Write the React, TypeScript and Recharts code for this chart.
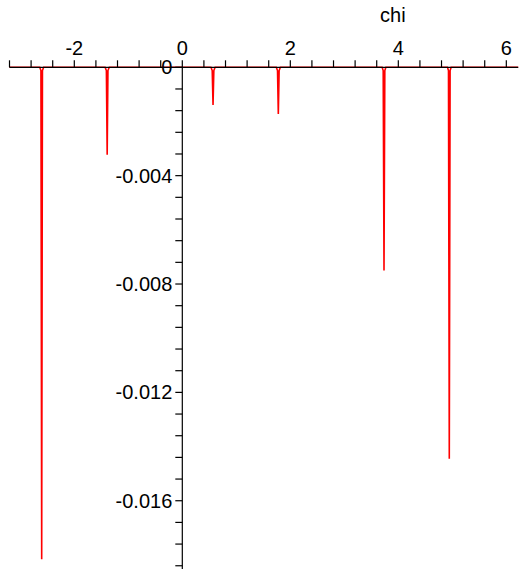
import React from 'react';
import { ComposedChart, Line, Scatter, XAxis, YAxis, ReferenceLine } from 'recharts';

// curve samples (chi, value)
const chiValues = [
  -3.2, -2.64, -2.618, -2.604, -2.59, -2.568,
  -1.43, -1.406, -1.391, -1.377, -1.352,
  0.53, 0.554, 0.569, 0.584, 0.608,
  1.74, 1.763, 1.778, 1.793, 1.816,
  3.7, 3.72, 3.735, 3.75, 3.77,
  4.91, 4.929, 4.944, 4.959, 4.978, 6.22,
];
const fValues = [
  0, 0, -0.00012, -0.01816, -0.00012, 0,
  0, -0.00012, -0.00323, -0.00012, 0,
  0, -0.00012, -0.00139, -0.00012, 0,
  0, -0.00012, -0.00172, -0.00012, 0,
  0, -0.00012, -0.0075, -0.00012, 0,
  0, -0.00012, -0.01445, -0.00012, 0, 0,
];

const xTicks = [
  -3.2, -2.8, -2.4, -2, -1.6, -1.2, -0.8, -0.4, 0, 0.4, 0.8, 1.2,
  1.6, 2, 2.4, 2.8, 3.2, 3.6, 4, 4.4, 4.8, 5.2, 5.6, 6,
];
const xLabels = [-2, 0, 2, 4, 6];

const yTicks = [
  0, -0.0008, -0.0016, -0.0024, -0.0032, -0.004, -0.0048, -0.0056, -0.0064,
  -0.0072, -0.008, -0.0088, -0.0096, -0.0104, -0.0112, -0.012, -0.0128,
  -0.0136, -0.0144, -0.0152, -0.016, -0.0168, -0.0176, -0.0184,
];
const yLabels = ['0', '-0.004', '-0.008', '-0.012', '-0.016'];

const curve = chiValues.map((x, i) => ({ x, y: fValues[i] }));
const yAxisMarks = yTicks.map((v) => {
  const lbl = yLabels.find((s) => Math.abs(parseFloat(s) - v) < 1e-9);
  return { x: 0, y: v, label: lbl ?? '' };
});

const FONT = '"Liberation Sans", Arial, sans-serif';
const FS = 20;

const fmtX = (v: number) => {
  const hit = xLabels.find((l) => Math.abs(l - v) < 1e-9);
  return hit === undefined ? '' : String(hit);
};

const YTick = (props: any) => {
  const { cx, cy, payload } = props;
  return (
    <g>
      <line x1={cx - 7} x2={cx} y1={cy} y2={cy} stroke="#000" strokeWidth={1.2} />
      {payload.label && (
        <text
          x={cx - 10}
          y={cy}
          textAnchor="end"
          dominantBaseline="central"
          fontSize={FS}
          fontFamily={FONT}
          fill="#000"
        >
          {payload.label}
        </text>
      )}
    </g>
  );
};

export default function App() {
  return (
    <div style={{ position: 'absolute', left: 0, top: 0, background: '#fff' }}>
      <ComposedChart
        width={519}
        height={573}
        margin={{ top: 37.3, right: 0.8, left: 9.5, bottom: 4 }}
      >
        <XAxis
          dataKey="x"
          type="number"
          orientation="top"
          domain={[-3.2, 6.22]}
          ticks={xTicks}
          interval={0}
          height={30}
          tickFormatter={fmtX}
          tickSize={7}
          tickMargin={5}
          axisLine={{ stroke: '#000', strokeWidth: 1.2 }}
          tickLine={{ stroke: '#000', strokeWidth: 1.2 }}
          tick={{ fill: '#000', fontSize: FS, fontFamily: FONT }}
          label={{
            value: 'chi',
            position: 'top',
            dx: 129,
            dy: -10,
            fill: '#000',
            fontSize: FS,
            fontFamily: FONT,
          }}
        />
        <YAxis
          dataKey="y"
          type="number"
          domain={[-0.01852, 0]}
          hide
        />
        <ReferenceLine x={0} stroke="#000" strokeWidth={1.2} />
        <Line
          data={curve}
          dataKey="y"
          type="linear"
          stroke="#ff0000"
          strokeWidth={1.6}
          dot={false}
          isAnimationActive={false}
        />
        <Scatter
          data={yAxisMarks}
          dataKey="y"
          shape={YTick}
          isAnimationActive={false}
        />
      </ComposedChart>
    </div>
  );
}
